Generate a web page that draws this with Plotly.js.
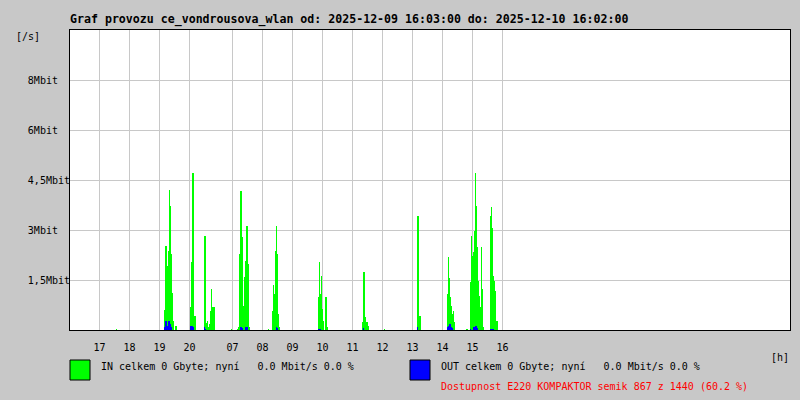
<!DOCTYPE html>
<html>
<head>
<meta charset="utf-8">
<script src="https://cdn.plot.ly/plotly-3.0.1.min.js"></script>
<style>
  html, body { margin: 0; padding: 0; background: #c8c8c8; }
  #chart { width: 800px; height: 400px; }
  #chart .scatterlayer path { shape-rendering: crispEdges; }
</style>
</head>
<body>
<div id="chart"></div>
<script>
// ---- data (sample index = one 2‑minute sample of available data) ----
const sampleCount = 434;
const hourLabels = ['17','18','19','20','07','08','09','10','11','12','13','14','15','16'];
const hourPos    = [29.5, 59.5, 89.5, 119.5, 162.5, 192.5, 222.5, 252.5, 282.5, 312.5, 342.5, 372.5, 402.5, 432.5];

const yTickVals   = [1.5, 3, 4.5, 6, 7.5];
const yTickLabels = ['1,5Mbit', '3Mbit', '4,5Mbit', '6Mbit', '8Mbit'];

// IN traffic [Mbit/s]
const inIdx  = [46,
  94, 95, 96, 97, 98, 99, 100, 101, 102, 103, 105, 106,
  120, 121, 122, 123, 124, 125,
  134, 135, 136, 137, 138, 139, 140, 141, 142, 143, 144,
  161,
  167, 168, 169, 170, 171, 172, 173, 174, 175, 176, 177, 178, 179,
  198, 202, 203, 204, 205, 206, 207, 208, 209,
  248, 249, 250, 251, 252, 253, 255, 256, 257,
  292, 293, 294, 295, 296, 297, 298,
  314,
  347, 348, 349, 350,
  377, 378, 379, 380, 381, 382, 383, 384,
  396, 397, 400, 401, 402, 403, 404, 405, 406, 407, 408, 409, 410, 411, 412, 413,
  420, 421, 422, 423, 424, 425, 426, 427];
const inMbit = [0.05,
  0.63, 2.55, 2.55, 1.95, 2.4, 4.23, 3.75, 2.3, 1.14, 0.3, 0.15, 0.15,
  0.7, 2.05, 4.72, 4.72, 0.43, 0.43,
  2.85, 2.85, 0.22, 0.3, 0.1, 0.2, 0.6, 1.24, 0.7, 0.7, 0.7,
  0.05,
  0.06, 0.1, 2.3, 4.2, 4.2, 2.8, 0.75, 1.6, 2.1, 3.15, 3.15, 2.0, 0.1,
  0.05, 0.6, 1.38, 1.1, 2.4, 3.13, 2.3, 0.5, 0.1,
  1.02, 2.05, 1.1, 1.65, 0.65, 0.3, 1.02, 1.02, 0.1,
  0.27, 1.77, 1.77, 0.4, 0.25, 0.25, 0.15,
  0.04,
  3.45, 3.45, 0.45, 0.45,
  1.1, 2.2, 1.57, 1.0, 0.75, 0.5, 0.6, 0.25,
  0.05, 0.05, 1.45, 2.85, 2.25, 2.35, 3.0, 4.74, 3.75, 2.5, 1.5, 1.05, 0.7, 2.5, 1.26, 0.1,
  3.45, 3.7, 3.07, 1.65, 1.5, 1.2, 0.3, 0.3];

// OUT traffic [Mbit/s]
const outIdx  = [94, 95, 96, 97, 98, 99, 100, 101,
  120, 121, 122, 123,
  134, 135,
  170, 171, 172, 175, 176, 177,
  206, 207,
  248, 249, 250,
  293,
  347,
  377, 378, 379, 380, 381, 382,
  400, 403, 404, 405, 406, 407,
  420, 421, 422, 423];
const outMbit = [0.1, 0.3, 0.3, 0.15, 0.3, 0.3, 0.2, 0.1,
  0.13, 0.13, 0.13, 0.1,
  0.1, 0.05,
  0.12, 0.12, 0.08, 0.1, 0.1, 0.1,
  0.1, 0.08,
  0.06, 0.06, 0.06,
  0.08,
  0.12,
  0.1, 0.15, 0.2, 0.2, 0.12, 0.08,
  0.05, 0.1, 0.12, 0.15, 0.15, 0.08,
  0.06, 0.06, 0.06, 0.05];

const title = 'Graf provozu ce_vondrousova_wlan od: 2025-12-09 16:03:00 do: 2025-12-10 16:02:00';
const inText  = 'IN celkem 0 Gbyte; nyní   0.0 Mbit/s 0.0 %';
const outText = 'OUT celkem 0 Gbyte; nyní   0.0 Mbit/s 0.0 %';
const availText = 'Dostupnost E220 KOMPAKTOR semik 867 z 1440 (60.2 %)';

// ---- build series: each sample fills one column [i, i+1) ----
function buildSeries(idx, vals) {
  const y = new Array(sampleCount + 1).fill(0);
  idx.forEach((k, j) => { y[k] = vals[j]; });
  const xs = y.map((v, i) => i);
  return { xs, ys: y };
}
const inS = buildSeries(inIdx, inMbit);
const outS = buildSeries(outIdx, outMbit);

const nb = s => s.replace(/ /g, '\u00a0');
const pad = (s, n) => (s + '       ').slice(0, n).replace(/ /g, '\u00a0');

const MONO = 'DejaVu Sans Mono, monospace';
const L = 70, T = 30, PW = 720, PH = 300;
const px = x => (x - L) / PW;
const py = y => (T + PH - y) / PH;

const traces = [
  { x: inS.xs, y: inS.ys, type: 'scatter', mode: 'lines', fill: 'tozeroy', fillcolor: '#00ff00',
    line: { color: '#00ff00', width: 0, shape: 'hv' }, hoverinfo: 'skip' },
  { x: outS.xs, y: outS.ys, type: 'scatter', mode: 'lines', fill: 'tozeroy', fillcolor: '#0000ff',
    line: { color: '#0000ff', width: 0, shape: 'hv' }, hoverinfo: 'skip' }
];

const layout = {
  width: 800, height: 400,
  margin: { l: L, r: 10, t: T, b: 70, pad: 0 },
  paper_bgcolor: '#c8c8c8',
  plot_bgcolor: '#ffffff',
  showlegend: false,
  title: { text: nb(title), x: L / 800, xanchor: 'left', xref: 'container',
           y: 1 - 18.5 / 400, yanchor: 'middle', yref: 'container',
           font: { family: MONO, size: 11.6, color: '#000', weight: 'bold' } },
  xaxis: {
    range: [0, 720], tickmode: 'array', tickvals: hourPos, ticktext: hourLabels,
    showgrid: true, gridcolor: '#c8c8c8', gridwidth: 1, zeroline: false,
    showline: true, linecolor: '#000', linewidth: 1, mirror: true,
    ticks: 'outside', ticklen: 8, tickcolor: 'rgba(0,0,0,0)',
    tickfont: { family: MONO, size: 10, color: '#000' }, fixedrange: true
  },
  yaxis: {
    range: [0.015, 9.015], tickmode: 'array', tickvals: yTickVals,
    ticktext: yTickLabels.map(s => pad(s, 7)),
    showgrid: true, gridcolor: '#c8c8c8', gridwidth: 1, zeroline: false,
    showline: true, linecolor: '#000', linewidth: 1, mirror: true,
    ticks: '', ticklabelstandoff: -3,
    tickfont: { family: MONO, size: 10, color: '#000' }, fixedrange: true
  },
  shapes: [
    { type: 'rect', xref: 'paper', yref: 'paper', x0: px(70), x1: px(90), y0: py(380), y1: py(360),
      fillcolor: '#00ff00', line: { color: '#000', width: 1 } },
    { type: 'rect', xref: 'paper', yref: 'paper', x0: px(410), x1: px(430), y0: py(380), y1: py(360),
      fillcolor: '#0000ff', line: { color: '#000', width: 1 } }
  ],
  annotations: [
    { text: '[/s]', xref: 'paper', yref: 'paper', x: px(14), y: py(37), xanchor: 'left', yanchor: 'middle',
      showarrow: false, font: { family: MONO, size: 10, color: '#000' } },
    { text: '[h]', xref: 'paper', yref: 'paper', x: px(769), y: py(357), xanchor: 'left', yanchor: 'middle',
      showarrow: false, font: { family: MONO, size: 10, color: '#000' } },
    { text: nb(inText), xref: 'paper', yref: 'paper', x: px(99), y: py(366.5), xanchor: 'left', yanchor: 'middle',
      showarrow: false, font: { family: MONO, size: 10, color: '#000' } },
    { text: nb(outText), xref: 'paper', yref: 'paper', x: px(439), y: py(366.5), xanchor: 'left', yanchor: 'middle',
      showarrow: false, font: { family: MONO, size: 10, color: '#000' } },
    { text: nb(availText), xref: 'paper', yref: 'paper', x: px(439), y: py(386.7), xanchor: 'left', yanchor: 'middle',
      showarrow: false, font: { family: MONO, size: 10, color: '#ff0000' } }
  ]
};

Plotly.newPlot('chart', traces, layout, { staticPlot: true, displayModeBar: false });
</script>
</body>
</html>
